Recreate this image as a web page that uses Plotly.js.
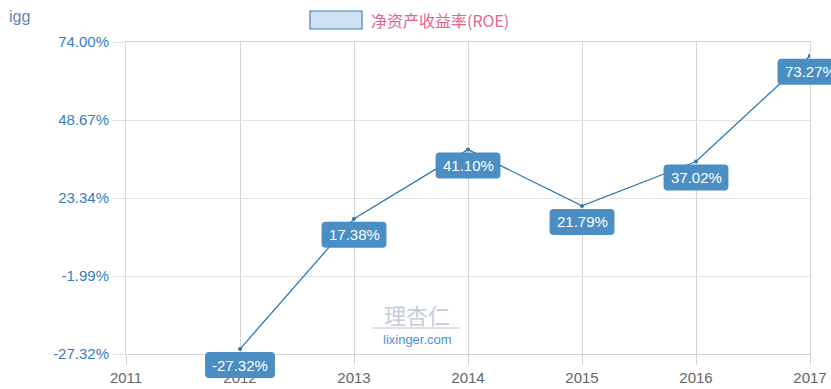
<!DOCTYPE html>
<html>
<head>
<meta charset="utf-8">
<script src="https://cdn.plot.ly/plotly-3.0.1.min.js"></script>
<style>
  html, body { margin: 0; padding: 0; background: #fff; }
  #chart { width: 831px; height: 389px; }
</style>
</head>
<body>
<div id="chart"></div>
<script>
// ---- data ----
const years = [2012, 2013, 2014, 2015, 2016, 2017];
const roe = [-27.32, 17.38, 41.10, 21.79, 37.02, 73.27];
const roeLabels = ['-27.32%', '17.38%', '41.10%', '21.79%', '37.02%', '73.27%'];
const xTicks = [2011, 2012, 2013, 2014, 2015, 2016, 2017];
const yTickVals = [74.00, 48.67, 23.34, -1.99, -27.32];
const yTickText = ['74.00%', '48.67%', '23.34%', '-1.99%', '-27.32%'];
const seriesName = '净资产收益率(ROE)';
const unitLabel = 'igg';

// ---- layout helpers ----
const W = 831, H = 389;
const M = { l: 126, r: 21, t: 42, b: 35 };
const PW = W - M.l - M.r, PH = H - M.t - M.b;
const px = (x) => (x - M.l) / PW;
const py = (y) => (H - M.b - y) / PH;

const labelFont = '15px "Liberation Sans", Arial, sans-serif';
const cv = document.createElement('canvas').getContext('2d');
cv.font = labelFont;

const boxColor = '#4a8ec4';
const annotations = [];
const decoShapes = [];

years.forEach((yr, i) => {
  annotations.push({
    x: yr, y: roe[i], xref: 'x', yref: 'y2', text: roeLabels[i], showarrow: false,
    xanchor: 'center', yanchor: 'middle', yshift: -16,
    font: { family: '"Liberation Sans", Arial, sans-serif', size: 15, color: '#ffffff' }
  });
});

// legend (drawn manually)
decoShapes.push({
  type: 'rect', xref: 'paper', yref: 'paper',
  x0: px(310), x1: px(362), y0: py(29), y1: py(11),
  fillcolor: '#cfe2f3', line: { color: '#3f7fbf', width: 1.2 }, layer: 'above'
});
annotations.push({
  xref: 'paper', yref: 'paper', x: px(369), y: py(20), xanchor: 'left', yanchor: 'middle',
  text: seriesName, showarrow: false,
  font: { family: '"Noto Sans CJK SC", sans-serif', size: 16, color: '#e6628a' }
});
// unit label
annotations.push({
  xref: 'paper', yref: 'paper', x: px(7), y: py(16), xanchor: 'left', yanchor: 'middle',
  text: unitLabel, showarrow: false,
  font: { family: '"Liberation Sans", Arial, sans-serif', size: 16, color: '#6a84b8' }
});
// watermark
annotations.push({
  xref: 'paper', yref: 'paper', x: px(417), y: py(314), xanchor: 'center', yanchor: 'middle',
  text: '理杏仁', showarrow: false,
  font: { family: '"Noto Sans CJK SC", sans-serif', size: 22, color: '#c3ccd8' }
});
annotations.push({
  xref: 'paper', yref: 'paper', x: px(417), y: py(339), xanchor: 'center', yanchor: 'middle',
  text: 'lixinger.com', showarrow: false,
  font: { family: '"Liberation Sans", Arial, sans-serif', size: 13, color: '#4d93d4' }
});
decoShapes.push({
  type: 'line', xref: 'paper', yref: 'paper',
  x0: px(373), x1: px(459), y0: py(328), y1: py(328),
  line: { color: '#b8c0c8', width: 1 }, layer: 'above'
});

const trace = {
  x: years, y: roe, yaxis: 'y2', type: 'scatter', mode: 'lines+markers',
  name: seriesName, showlegend: false, hoverinfo: 'skip',
  line: { color: '#2d79b3', width: 1.3 },
  marker: { color: '#2d79b3', size: 4 }
};
// empty trace so that the base (grid) subplot x-y exists
const gridTrace = {
  x: [xTicks[0]], y: [null], type: 'scatter', mode: 'markers',
  showlegend: false, hoverinfo: 'skip'
};

const layout = {
  width: W, height: H,
  margin: M,
  paper_bgcolor: '#ffffff', plot_bgcolor: '#ffffff',
  showlegend: false,
  xaxis: {
    range: [2011, 2017], tickvals: xTicks, ticktext: xTicks.map(String),
    showgrid: true, gridcolor: '#d4d4d4', gridwidth: 1,
    ticks: 'outside', ticklen: 10, tickcolor: '#d4d4d4',
    zeroline: false, showline: true, linecolor: '#d4d4d4', linewidth: 1, mirror: true,
    fixedrange: true,
    tickfont: { family: '"Liberation Sans", Arial, sans-serif', size: 15, color: '#666666' }
  },
  yaxis: {
    range: [-27.32, 74.00], tickvals: yTickVals, ticktext: yTickText,
    showgrid: true, gridcolor: '#e2e2e2', gridwidth: 1,
    ticks: 'outside', ticklen: 13, tickcolor: '#e2e2e2',
    zeroline: false, showline: true, linecolor: '#dadada', linewidth: 1, mirror: true,
    fixedrange: true,
    tickfont: { family: '"Liberation Sans", Arial, sans-serif', size: 15, color: '#3b7cbf' }
  },
  yaxis2: {
    overlaying: 'y', range: [-29.0, 78.0], visible: false, fixedrange: true
  },
  shapes: decoShapes,
  annotations: annotations
};

const gd = document.getElementById('chart');
Plotly.newPlot(gd, [gridTrace, trace], layout, { displayModeBar: false, staticPlot: true }).then(() => {
  // rounded label boxes, anchored through the library's own axis scales
  const xa = gd._fullLayout.xaxis, ya = gd._fullLayout.yaxis2;
  const boxes = years.map((yr, i) => {
    const tw = cv.measureText(roeLabels[i]).width;
    const hw = (tw + 14) / 2, r = 4, t = -3, b = -29;
    const path = `M ${-hw + r},${t} L ${hw - r},${t} Q ${hw},${t} ${hw},${t - r} ` +
      `L ${hw},${b + r} Q ${hw},${b} ${hw - r},${b} L ${-hw + r},${b} ` +
      `Q ${-hw},${b} ${-hw},${b + r} L ${-hw},${t - r} Q ${-hw},${t} ${-hw + r},${t} Z`;
    return {
      type: 'path', xref: 'paper', yref: 'paper', xsizemode: 'pixel', ysizemode: 'pixel',
      xanchor: xa.l2p(xa.d2l(yr)) / xa._length,
      yanchor: 1 - ya.l2p(ya.d2l(roe[i])) / ya._length,
      path: path, fillcolor: boxColor, line: { width: 0 }, layer: 'above'
    };
  });
  return Plotly.relayout(gd, { shapes: decoShapes.concat(boxes) });
});
</script>
</body>
</html>
